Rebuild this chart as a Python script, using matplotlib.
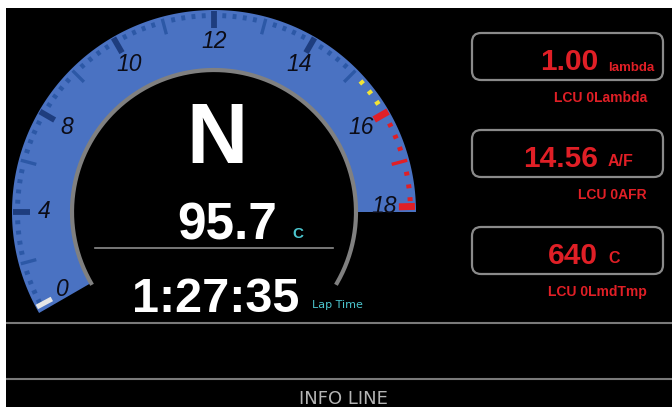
import numpy as np
import matplotlib
matplotlib.use("Agg")
import matplotlib.pyplot as plt
from matplotlib.patches import FancyBboxPatch

# ---------------------------------------------------------------- data ---- #
GEAR = "N"
COOLANT = 95.7
COOLANT_UNIT = "C"
LAP_TIME = "1:27:35"
LAP_LABEL = "Lap Time"
RPM = 0.0                      # x1000, white marker on the gauge

GAUGE_LABELS = [0, 4, 8, 10, 12, 14, 16, 18]
MAJOR_TICKS = [4, 8, 10, 12, 14]
MEDIUM_TICKS = [2, 6, 9, 11, 13, 15]
WARN_DOTS = [15.25, 15.5, 15.75]
RED_MAJOR = [16, 18]
RED_MEDIUM = [17]

READ_VALUES = [1.00, 14.56, 640]
READ_FMT = ["{:.2f}", "{:.2f}", "{:.0f}"]
READ_UNITS = ["lambda", "A/F", "C"]
READ_LABELS = ["LCU 0Lambda", "LCU 0AFR", "LCU 0LmdTmp"]
INFO_TEXT = "INFO LINE"

# --------------------------------------------------------------- style ---- #
W, H = 672, 407
CX, CY = 214, 212             # gauge centre (px)
R_OUT, R_IN = 202, 142
BLUE = "#4a72c2"
NAVY = "#1e3d7e"
MIDBLUE = "#2c58a6"
RED = "#e01f26"
YELLOW = "#f2e436"
CYAN = "#4cc6cf"
GRAY = "#808080"
NARROW = ["Liberation Sans Narrow", "DejaVu Sans"]
BOLD = "Liberation Sans"


def ang(v):
    """rpm (x1000) -> angle in degrees; 0-8 compressed, 8-18 linear."""
    v = np.asarray(v, dtype=float)
    return np.where(v <= 8, 210 - 7.5 * v, 150 - 15 * (v - 8))


def pol(r, a):
    t = np.radians(a)
    return CX + r * np.cos(t), CY - r * np.sin(t)


def tick(ax, v, r0, r1, color, lw, a=None):
    a = float(ang(v)) if a is None else a
    x0, y0 = pol(r0, a)
    x1, y1 = pol(r1, a)
    ax.plot([x0, x1], [y0, y1], color=color, lw=lw, solid_capstyle="butt")


fig = plt.figure(figsize=(W / 100, H / 100), dpi=100, facecolor="white")
ax = fig.add_axes([6 / W, 0, (W - 6) / W, (H - 8) / H])
ax.set_xlim(6, W)
ax.set_ylim(H, 8)
ax.set_facecolor("black")
for s in ax.spines.values():
    s.set_visible(False)
ax.set_xticks([]); ax.set_yticks([])

# gauge band
th = np.linspace(0, 210, 300)
xo, yo = pol(R_OUT, th)
xi, yi = pol(R_IN, th[::-1])
ax.fill(np.r_[xo, xi], np.r_[yo, yi], color=BLUE, lw=0)

# inner gray ring
th = np.linspace(-30, 210, 300)
ax.plot(*pol(R_IN, th), color=GRAY, lw=3)

# minor dots
blue_dots = np.r_[np.arange(0, 8, 0.4), np.arange(8, 15, 0.2)]
for v in blue_dots:
    if not np.any(np.isclose(v, MAJOR_TICKS + MEDIUM_TICKS + [0])):
        tick(ax, v, 194, 199, MIDBLUE, 2.8)
for v in WARN_DOTS:
    tick(ax, v, 194, 199, YELLOW, 2.8)
for v in np.arange(16, 18, 0.25):
    if not np.any(np.isclose(v, RED_MAJOR + RED_MEDIUM)):
        tick(ax, v, 194, 199, RED, 2.8)

for v in MEDIUM_TICKS:
    tick(ax, v, 184, 200, MIDBLUE, 2.4)
for v in MAJOR_TICKS:
    tick(ax, v, 184, 201, NAVY, 4.2)
for v in RED_MEDIUM:
    tick(ax, v, 184, 200, RED, 2.4)
for v in RED_MAJOR:
    a = min(float(ang(v)), 208) if v < 18 else 1.6
    tick(ax, v, 185, 201, RED, 5.0, a=a)
tick(ax, RPM, 184, 201, "#e6e6e6", 3.6, a=min(float(ang(RPM)), 208.2))

for v in GAUGE_LABELS:
    a = float(np.clip(ang(v), 2, 207))
    x, y = pol(170, a)
    ax.text(x, y, str(v), color="#0c0c16", fontsize=16.5, family=BOLD,
            style="italic", ha="center", va="center")

# centre texts
ax.text(217, 163, GEAR, color="white", fontsize=61, family=BOLD,
        weight="bold", ha="center", va="baseline")
ax.text(227, 240, f"{COOLANT:.1f}", color="white", fontsize=37, family=BOLD,
        weight="bold", ha="center", va="baseline")
ax.text(292, 238, COOLANT_UNIT, color=CYAN, fontsize=11, family=BOLD,
        weight="bold", ha="left", va="baseline")
ax.plot([95, 333], [248, 248], color="#8c8c8c", lw=1.2)
ax.text(216, 312, LAP_TIME, color="white", fontsize=35, family=BOLD,
        weight="bold", ha="center", va="baseline")
ax.text(312, 308, LAP_LABEL, color=CYAN, fontsize=8, family=NARROW,
        ha="left", va="baseline")

# right readouts
box_top = [33, 130, 227]
for i, val in enumerate(READ_VALUES):
    y0 = box_top[i]
    ax.add_patch(FancyBboxPatch((472, y0), 191, 47,
                                boxstyle="round,pad=0,rounding_size=9",
                                fc="none", ec="#8a8a8a", lw=1.6))
    ax.text(598, y0 + 37, READ_FMT[i].format(val), color=RED, fontsize=21.5,
            family=BOLD, weight="bold", ha="right", va="baseline")
    small = READ_UNITS[i] == "lambda"
    ax.text(608, y0 + 38 if small else y0 + 36, READ_UNITS[i], color=RED,
            fontsize=9.5 if small else 11.5, family=BOLD, weight="bold",
            ha="left", va="baseline")
    ax.text(647, y0 + 69, READ_LABELS[i], color=RED, fontsize=10,
            family=BOLD, weight="bold", ha="right", va="baseline")

# bottom info area
for y in [323, 379]:
    ax.plot([6, W], [y, y], color="#7a7a7a", lw=1.5)
ax.text(343, 404, INFO_TEXT, color="#b4b4b4", fontsize=13, family=NARROW,
        ha="center", va="baseline")

fig.savefig("out.png", dpi=100, facecolor=fig.get_facecolor())
